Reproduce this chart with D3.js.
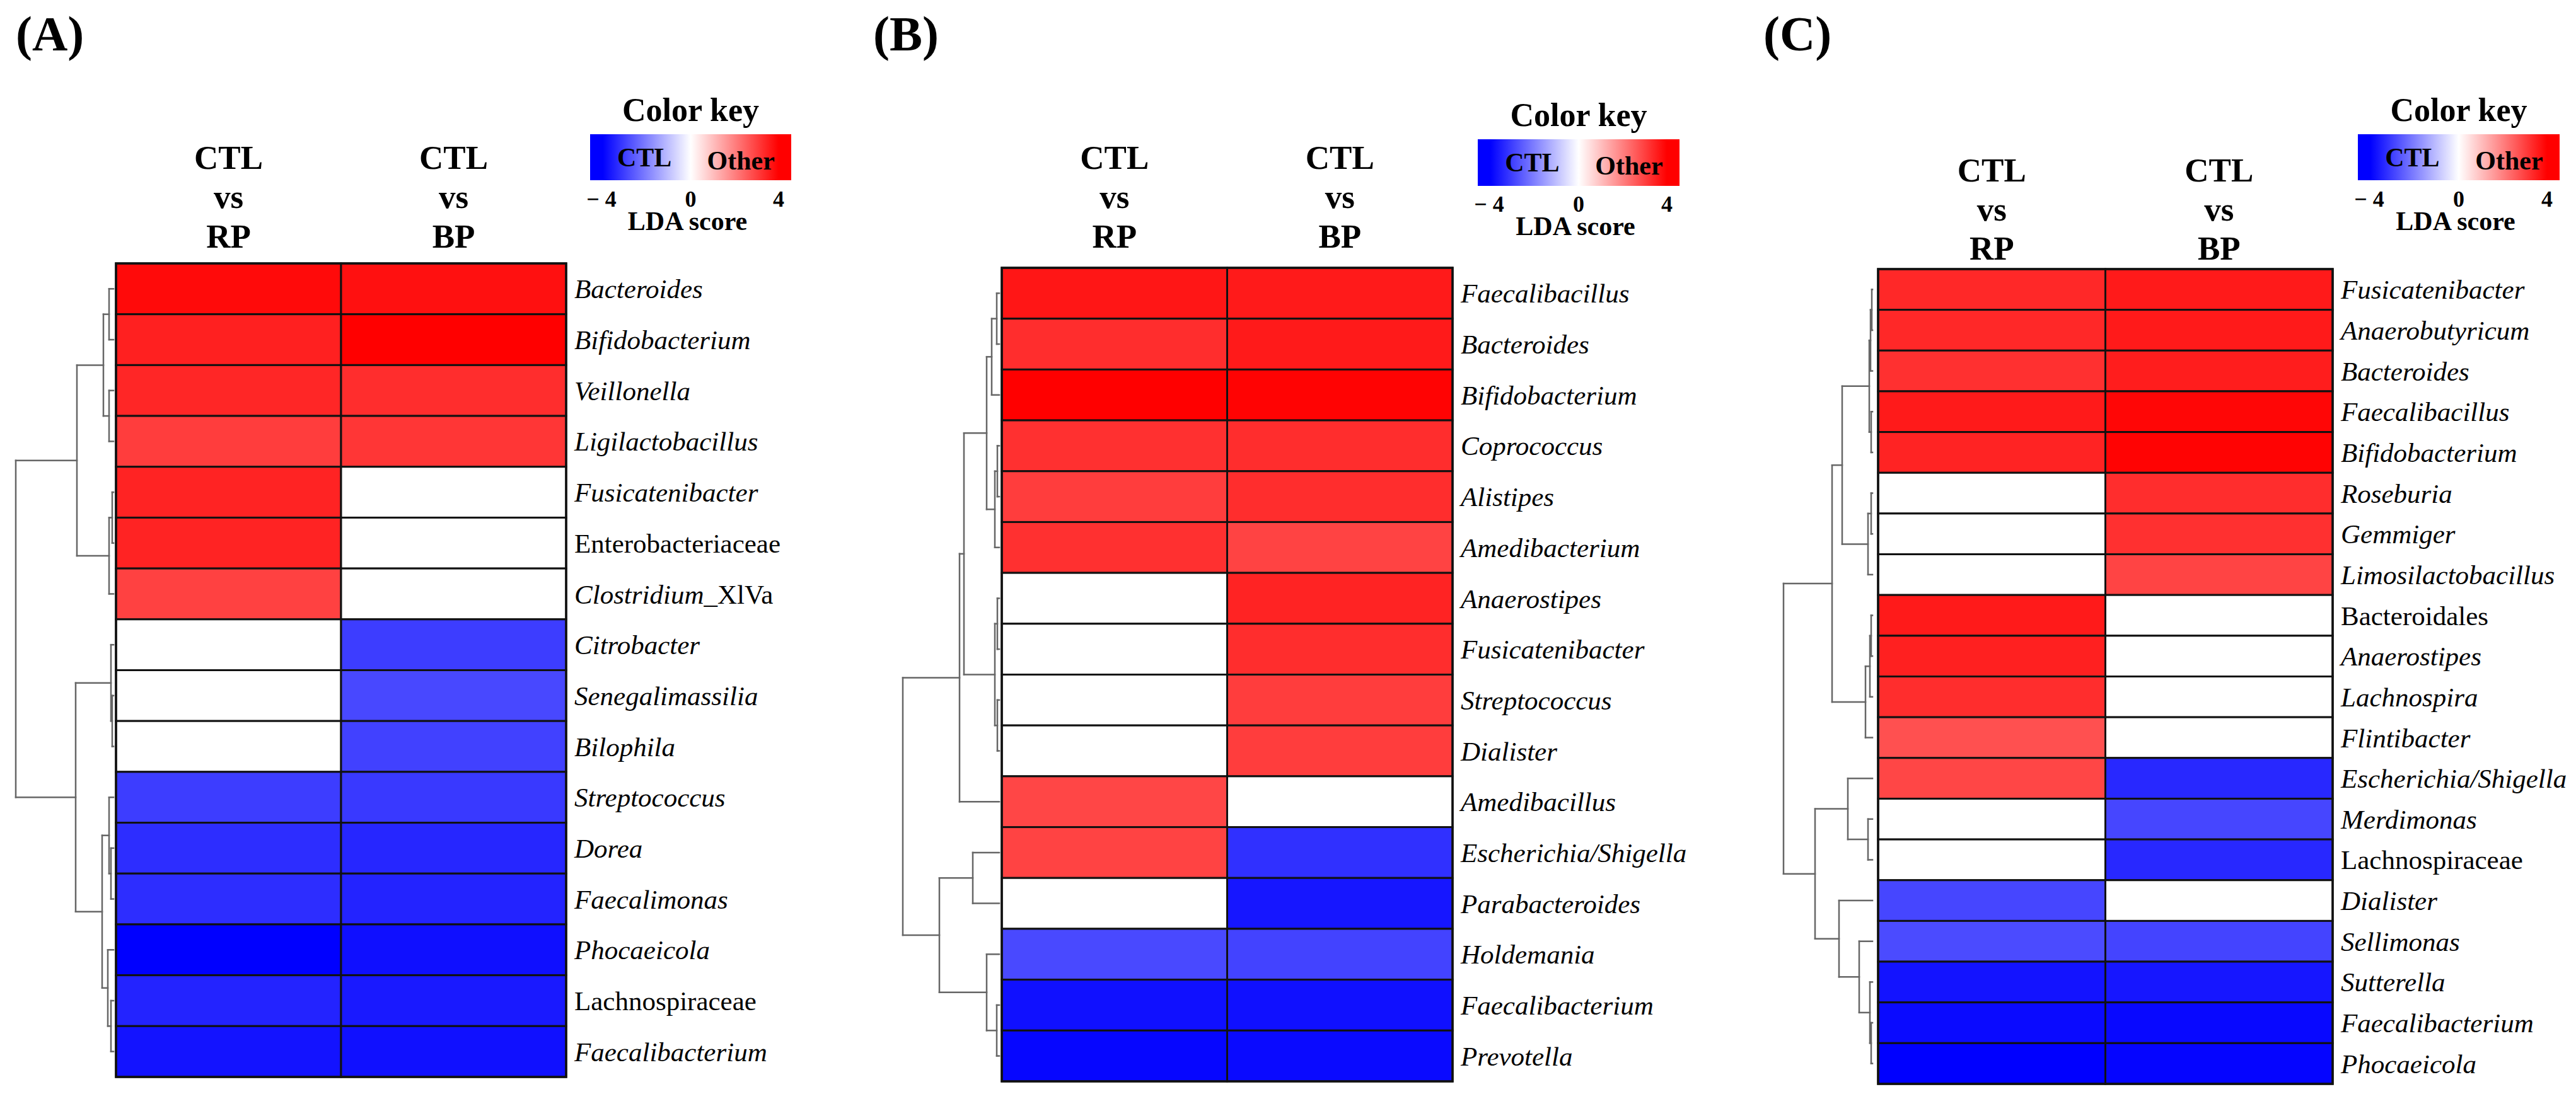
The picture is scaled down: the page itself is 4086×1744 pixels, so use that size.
<!DOCTYPE html>
<html>
<head>
<meta charset="utf-8">
<script src="https://cdn.jsdelivr.net/npm/d3@7"></script>
<style>
  body { margin: 0; background: #fff; }
  text { font-family: "Liberation Serif", "Times New Roman", serif; }
</style>
</head>
<body>
<script>
// ---- data ----
let comparisons = ['RP', 'BP'];
let headerLines = ['CTL', 'vs'];
let keyTicks = [-4, 0, 4];
let keyTickLabels = ['\u2212 4', '0', '4'];
let uprightTaxa = ['Enterobacteriaceae', 'Lachnospiraceae', 'Bacteroidales'];

let taxaA = ['Bacteroides','Bifidobacterium','Veillonella','Ligilactobacillus','Fusicatenibacter',
    'Enterobacteriaceae','Clostridium_XlVa','Citrobacter','Senegalimassilia','Bilophila',
    'Streptococcus','Dorea','Faecalimonas','Phocaeicola','Lachnospiraceae','Faecalibacterium'];
let rpA = [3.85, 3.5, 3.4, 3.05, 3.45, 3.45, 2.98, 0, 0, 0, -3.05, -3.3, -3.3, -4.0, -3.45, -3.7];
let bpA = [3.75, 4.0, 3.3, 3.15, 0, 0, 0, -3.05, -2.87, -2.98, -3.1, -3.4, -3.45, -3.77, -3.6, -3.75];
// dendrogram: [merge height, left, right], leaves are row indexes
let treeA = [155, [58, [16, [7, 0, 1], [7, 2, 3]], [7, [2, 4, 5], 6]],
                  [60, [4, 7, [2, 8, 9]], [18, [7, 10, [4, 11, 12]], [9, 13, [4, 14, 15]]]]];

let taxaB = ['Faecalibacillus','Bacteroides','Bifidobacterium','Coprococcus','Alistipes',
    'Amedibacterium','Anaerostipes','Fusicatenibacter','Streptococcus','Dialister',
    'Amedibacillus','Escherichia/Shigella','Parabacteroides','Holdemania','Faecalibacterium','Prevotella'];
let rpB = [3.65, 3.3, 4.0, 3.25, 3.05, 3.25, 0, 0, 0, 0, 2.9, 2.95, 0, -2.85, -3.75, -3.9];
let bpB = [3.6, 3.6, 3.95, 3.3, 3.3, 2.95, 3.45, 3.3, 3.05, 3.05, 0, -3.25, -3.65, -2.95, -3.75, -3.85];
let treeB = [153, [63, [56, [20, [12, [4, 0, 1], 2], [7, [3, 3, 4], 5]], [7, [3, 6, 7], [3, 8, 9]]], 10],
                  [95, [42, 11, 12], [20, 13, [4, 14, 15]]]];

let taxaC = ['Fusicatenibacter','Anaerobutyricum','Bacteroides','Faecalibacillus','Bifidobacterium',
    'Roseburia','Gemmiger','Limosilactobacillus','Bacteroidales','Anaerostipes','Lachnospira',
    'Flintibacter','Escherichia/Shigella','Merdimonas','Lachnospiraceae','Dialister','Sellimonas',
    'Sutterella','Faecalibacterium','Phocaeicola'];
let rpC = [3.37, 3.37, 3.25, 3.6, 3.45, 0, 0, 0, 3.6, 3.5, 3.3, 2.75, 2.9, 0, 0, -2.9, -2.82, -3.7, -3.85, -4.0];
let bpC = [3.6, 3.6, 3.55, 3.9, 3.95, 3.3, 3.25, 2.93, 0, 0, 0, 0, -3.37, -2.9, -3.37, 0, -2.93, -3.65, -3.87, -3.92];
let treeC = [141, [64, [48, [5, [3, [1, 0, 1], 2], [2, 3, 4]], [7, [2, 5, 6], 7]], [11, [4, [2, 8, 9], 10], 11]],
                  [91, [39, 12, [7, 13, 14]], [53, 15, [21, 16, [4, 17, [2, 18, 19]]]]]];

// ---- layout ----
let W = 4086, H = 1744;
let panels = [
    {tag:'(A)', tagX:25, taxa:taxaA, rp:rpA, bp:bpA, tree:treeA,
     left:184, right:898, top:418, bottom:1709, leafX:180, rootX:25, head:[268,330,393],
     key:{x0:936, x1:1255, y0:213, y1:286, title:192, tick:328, lda:365}},
    {tag:'(B)', tagX:1385, taxa:taxaB, rp:rpB, bp:bpB, tree:treeB,
     left:1589, right:2304, top:425, bottom:1716, leafX:1585, rootX:1432, head:[268,330,393],
     key:{x0:2344, x1:2664, y0:221, y1:295, title:200, tick:336, lda:373}},
    {tag:'(C)', tagX:2797, taxa:taxaC, rp:rpC, bp:bpC, tree:treeC,
     left:2979, right:3700, top:427, bottom:1720, leafX:2970, rootX:2829, head:[288,350,412],
     key:{x0:3740, x1:4060, y0:213, y1:286, title:192, tick:328, lda:365}}
];

let color = d3.scaleLinear().domain([-4, 0, 4]).range(['#0000ff', '#ffffff', '#ff0000']);

let svg = d3.select('body').append('svg')
    .attr('width', W)
    .attr('height', H);
svg.append('rect').attr('width', W).attr('height', H).attr('fill', '#fff');
let defs = svg.append('defs');

panels.forEach((p, pi) => {
    let g = svg.append('g');
    let n = p.taxa.length;

    let y = d3.scaleBand().domain(d3.range(n)).range([p.top, p.bottom]);
    let x = d3.scaleBand().domain(comparisons).range([p.left, p.right]);

    // panel tag
    g.append('text')
        .attr('x', p.tagX)
        .attr('y', 80)
        .attr('font-size', 78)
        .attr('font-weight', 'bold')
        .text(p.tag);

    // heatmap cells
    let cells = [];
    p.taxa.forEach((t, i) => {
        cells.push({i: i, comp: 'RP', v: p.rp[i]});
        cells.push({i: i, comp: 'BP', v: p.bp[i]});
    });
    g.selectAll('rect.cell')
        .data(cells)
        .enter()
        .append('rect')
        .attr('class', 'cell')
        .attr('x', d => x(d.comp))
        .attr('y', d => y(d.i))
        .attr('width', x.bandwidth())
        .attr('height', y.bandwidth())
        .attr('fill', d => color(d.v))
        .attr('stroke', '#111')
        .attr('stroke-width', 3);

    g.append('rect')
        .attr('x', p.left).attr('y', p.top)
        .attr('width', p.right - p.left).attr('height', p.bottom - p.top)
        .attr('fill', 'none')
        .attr('stroke', '#111')
        .attr('stroke-width', 3.5);

    // column headers
    comparisons.forEach(c => {
        let lines = headerLines.concat([c]);
        g.selectAll(null)
            .data(lines)
            .enter()
            .append('text')
            .attr('x', x(c) + x.bandwidth() / 2)
            .attr('y', (d, k) => p.head[k])
            .attr('text-anchor', 'middle')
            .attr('font-size', 53)
            .attr('font-weight', 'bold')
            .text(d => d);
    });

    // row labels
    let labels = g.selectAll('text.taxon')
        .data(p.taxa)
        .enter()
        .append('text')
        .attr('class', 'taxon')
        .attr('x', p.right + 13)
        .attr('y', (d, i) => y(i) + y.bandwidth() / 2)
        .attr('dy', '0.35em')
        .attr('font-size', 43);
    labels.each(function(d) {
        let t = d3.select(this);
        if (uprightTaxa.includes(d)) {
            t.text(d);
        } else if (d.includes('_')) {
            let k = d.indexOf('_');
            t.append('tspan').attr('font-style', 'italic').text(d.slice(0, k));
            t.append('tspan').text(d.slice(k));
        } else {
            t.attr('font-style', 'italic').text(d);
        }
    });

    // dendrogram
    let root = d3.hierarchy(p.tree, d => Array.isArray(d) ? d.slice(1) : null);
    let hx = d3.scaleLinear().domain([0, p.tree[0]]).range([p.leafX, p.rootX]);
    root.eachAfter(nd => {
        if (nd.children) {
            nd.py = (nd.children[0].py + nd.children[nd.children.length - 1].py) / 2;
            nd.px = hx(nd.data[0]);
        } else {
            nd.py = y(nd.data) + y.bandwidth() / 2;
            nd.px = hx(0);
        }
    });
    let segs = [];
    root.each(nd => {
        if (!nd.children) return;
        let c0 = nd.children[0], c1 = nd.children[nd.children.length - 1];
        segs.push([nd.px, c0.py, nd.px, c1.py]);
        nd.children.forEach(c => segs.push([nd.px, c.py, c.px, c.py]));
    });
    g.selectAll('line.dendro')
        .data(segs)
        .enter()
        .append('line')
        .attr('class', 'dendro')
        .attr('x1', d => d[0]).attr('y1', d => d[1])
        .attr('x2', d => d[2]).attr('y2', d => d[3])
        .attr('stroke', '#666')
        .attr('stroke-width', 2.5)
        .attr('stroke-linecap', 'square');

    // colour key
    let k = p.key;
    let keyScale = d3.scaleLinear().domain([-4, 4]).range([k.x0 + 20, k.x1 - 20]);
    let grad = defs.append('linearGradient')
        .attr('id', 'key' + pi)
        .attr('gradientUnits', 'userSpaceOnUse')
        .attr('x1', k.x0).attr('x2', k.x1)
        .attr('y1', 0).attr('y2', 0);
    grad.selectAll('stop')
        .data([-4.55, -4, 0, 4, 4.55])
        .enter()
        .append('stop')
        .attr('offset', d => (keyScale(d) - k.x0) / (k.x1 - k.x0))
        .attr('stop-color', d => color(Math.max(-4, Math.min(4, d))));

    g.append('rect')
        .attr('x', k.x0).attr('y', k.y0)
        .attr('width', k.x1 - k.x0).attr('height', k.y1 - k.y0)
        .attr('fill', 'url(#key' + pi + ')');

    let kc = (k.x0 + k.x1) / 2;
    g.append('text')
        .attr('x', kc).attr('y', k.title)
        .attr('text-anchor', 'middle')
        .attr('font-size', 52).attr('font-weight', 'bold')
        .text('Color key');
    g.append('text')
        .attr('x', k.x0 + 0.27 * (k.x1 - k.x0)).attr('y', (k.y0 + k.y1) / 2 + 14)
        .attr('text-anchor', 'middle')
        .attr('font-size', 42).attr('font-weight', 'bold')
        .text('CTL');
    g.append('text')
        .attr('x', k.x0 + 0.75 * (k.x1 - k.x0)).attr('y', (k.y0 + k.y1) / 2 + 19)
        .attr('text-anchor', 'middle')
        .attr('font-size', 42).attr('font-weight', 'bold')
        .text('Other');
    g.selectAll(null)
        .data(keyTicks)
        .enter()
        .append('text')
        .attr('x', d => keyScale(d) - (d < 0 ? 2 : 0))
        .attr('y', k.tick)
        .attr('text-anchor', 'middle')
        .attr('font-size', 36).attr('font-weight', 'bold')
        .text((d, i) => keyTickLabels[i]);
    g.append('text')
        .attr('x', kc - 5).attr('y', k.lda)
        .attr('text-anchor', 'middle')
        .attr('font-size', 42).attr('font-weight', 'bold')
        .text('LDA score');
});
</script>
</body>
</html>
